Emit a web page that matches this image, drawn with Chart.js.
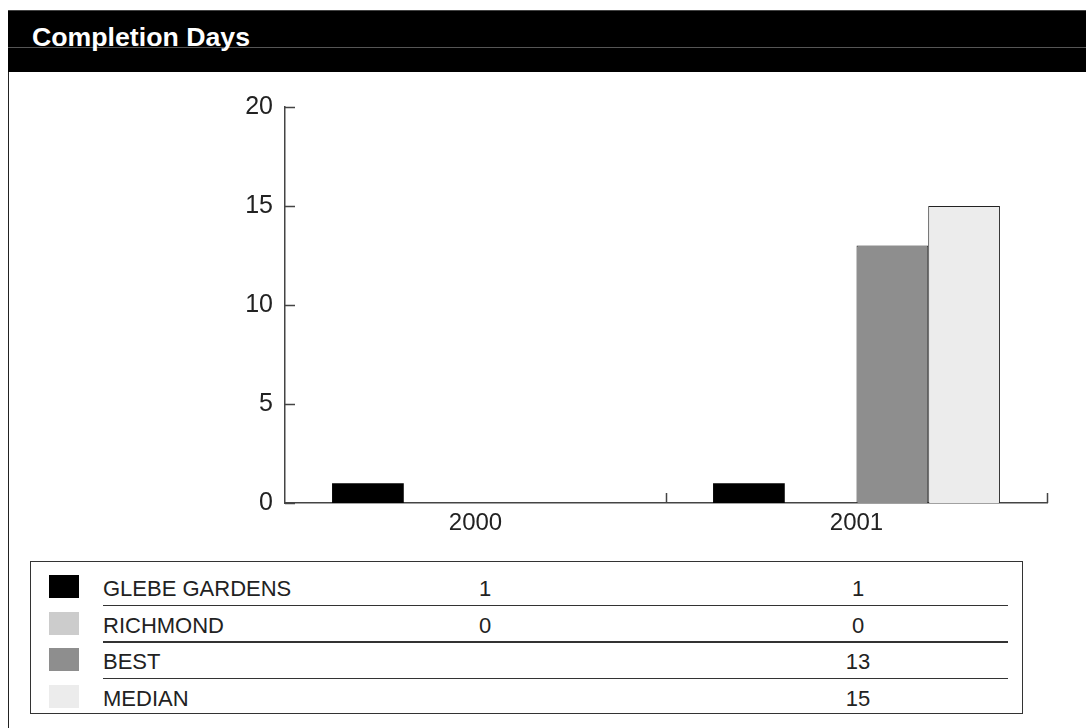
<!DOCTYPE html>
<html>
<head>
<meta charset="utf-8">
<script src="https://cdn.jsdelivr.net/npm/chart.js@4"></script>
<style>
  html, body { margin: 0; padding: 0; background: #fff; }
  body { width: 1086px; height: 728px; position: relative; overflow: hidden;
         font-family: "Liberation Sans", Arial, Helvetica, sans-serif; color: #222; }
  #header { position: absolute; left: 8px; top: 10px; width: 1078px; height: 61px;
            background: #000; border-top: 1px solid #444; }
  #headerRule { position: absolute; left: 8px; top: 47px; width: 1078px; height: 1px; background: #555; }
  #title { position: absolute; left: 32px; top: 24px; font-size: 26.7px; font-weight: bold;
           color: #fff; line-height: 26.7px; white-space: nowrap; z-index: 2; }
  #frame { position: absolute; left: 8px; top: 72px; width: 1px; height: 656px; background: #222; }
  #chartBox { position: absolute; left: 0; top: 72px; width: 1086px; height: 470px; }
  #table { position: absolute; left: 30px; top: 561px; width: 991px; height: 151px;
           border: 1.5px solid #333; }
  .swatch { position: absolute; left: 18px; width: 30px; height: 23px; }
  .name, .val { position: absolute; font-size: 22px; line-height: 22px; white-space: nowrap; }
  .val { width: 80px; text-align: center; }
  .rule { position: absolute; left: 72px; width: 905px; height: 1.5px; background: #333; }
</style>
</head>
<body>
<div id="header"></div>
<div id="headerRule"></div>
<div id="title">Completion Days</div>
<div id="frame"></div>
<div id="chartBox"><canvas id="chart"></canvas></div>
<div id="table"></div>
<script>
// completion days per year
const years = ["2000", "2001"];
const seriesNames = ["GLEBE GARDENS", "RICHMOND", "BEST", "MEDIAN"];
const glebeGardens = [1, 1];
const richmond = [0, 0];
const best = [null, 13];
const median = [null, 15];
const yTicks = [0, 5, 10, 15, 20];

const fills = ["#000000", "#cccccc", "#8e8e8e", "#ececec"];
const edges = [0, 0, 1, 1];
const values = [glebeGardens, richmond, best, median];

const axisColor = "#444";

// short ticks pointing into the plot
const innerTicks = {
  id: "innerTicks",
  afterDraw(chart) {
    const { ctx, scales: { x, y } } = chart;
    ctx.save();
    ctx.strokeStyle = axisColor;
    ctx.lineWidth = 1.5;
    ctx.beginPath();
    yTicks.forEach(v => {
      const py = Math.round(y.getPixelForValue(v)) + 0.5;
      ctx.moveTo(x.left, py);
      ctx.lineTo(x.left + 10, py);
    });
    for (let i = 0; i < years.length; i++) {
      const px = Math.round(x.getPixelForValue(i + 0.5)) + 0.5;
      ctx.moveTo(px, y.bottom);
      ctx.lineTo(px, y.bottom - 10);
    }
    ctx.stroke();
    ctx.restore();
  }
};

new Chart(document.getElementById("chart"), {
  type: "bar",
  data: {
    labels: years,
    datasets: seriesNames.map((name, i) => ({
      label: name,
      data: values[i],
      backgroundColor: fills[i],
      borderColor: "#222",
      borderWidth: edges[i],
      categoryPercentage: 0.753,
      barPercentage: 1
    }))
  },
  options: {
    responsive: true,
    maintainAspectRatio: false,
    animation: false,
    layout: { padding: { top: 35, right: 39, bottom: 0, left: 0 } },
    plugins: { legend: { display: false }, tooltip: { enabled: false } },
    scales: {
      x: {
        grid: { display: false, drawTicks: false },
        border: { display: true, color: axisColor, width: 1.5 },
        ticks: { color: "#222", padding: 6, font: { family: "Liberation Sans", size: 24 } },
        afterFit(scale) { scale.height = 39; }
      },
      y: {
        min: 0,
        max: 20,
        afterBuildTicks(scale) { scale.ticks = yTicks.map(v => ({ value: v })); },
        grid: { display: false, drawTicks: false },
        border: { display: true, color: axisColor, width: 1.5 },
        ticks: { color: "#222", padding: 12, font: { family: "Liberation Sans", size: 25 } },
        afterFit(scale) { scale.width = 285; }
      }
    }
  },
  plugins: [innerTicks]
});

// value table under the plot
const table = document.getElementById("table");
const rowPitch = 36.7;
const colCenters = [454, 827];
seriesNames.forEach((name, i) => {
  const top = i * rowPitch;
  const sw = document.createElement("div");
  sw.className = "swatch";
  sw.style.top = (top + 13) + "px";
  sw.style.background = fills[i];
  table.appendChild(sw);

  const label = document.createElement("div");
  label.className = "name";
  label.style.left = "72px";
  label.style.top = (top + 15.8) + "px";
  label.textContent = name;
  table.appendChild(label);

  values[i].forEach((v, j) => {
    if (v === null) return;
    const cell = document.createElement("div");
    cell.className = "val";
    cell.style.left = (colCenters[j] - 40) + "px";
    cell.style.top = (top + 15.8) + "px";
    cell.textContent = v;
    table.appendChild(cell);
  });

  if (i < seriesNames.length - 1) {
    const rule = document.createElement("div");
    rule.className = "rule";
    rule.style.top = (top + 42.5) + "px";
    table.appendChild(rule);
  }
});
</script>
</body>
</html>
